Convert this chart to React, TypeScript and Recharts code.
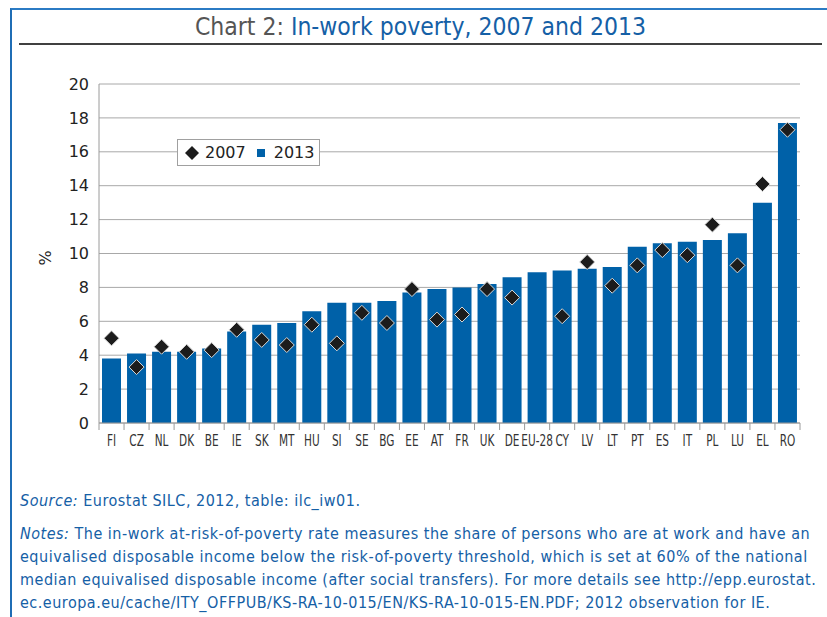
import { ComposedChart, Bar, Scatter, XAxis, YAxis, CartesianGrid } from 'recharts'

const countries = [
  'FI', 'CZ', 'NL', 'DK', 'BE', 'IE', 'SK', 'MT', 'HU', 'SI', 'SE', 'BG', 'EE', 'AT',
  'FR', 'UK', 'DE', 'EU-28', 'CY', 'LV', 'LT', 'PT', 'ES', 'IT', 'PL', 'LU', 'EL', 'RO',
]
const values2013 = [
  3.8, 4.1, 4.2, 4.2, 4.4, 5.4, 5.8, 5.9, 6.6, 7.1, 7.1, 7.2, 7.7, 7.9,
  8.0, 8.2, 8.6, 8.9, 9.0, 9.1, 9.2, 10.4, 10.6, 10.7, 10.8, 11.2, 13.0, 17.7,
]
const values2007 = [
  5.0, 3.3, 4.5, 4.2, 4.3, 5.5, 4.9, 4.6, 5.8, 4.7, 6.5, 5.9, 7.9, 6.1,
  6.4, 7.9, 7.4, null, 6.3, 9.5, 8.1, 9.3, 10.2, 9.9, 11.7, 9.3, 14.1, 17.3,
]
const yTicks = [0, 2, 4, 6, 8, 10, 12, 14, 16, 18, 20]

const data = countries.map((c, i) => ({ country: c, y2013: values2013[i], y2007: values2007[i] }))

const BLUE = '#0061a8'
const TEXT_BLUE = '#1560a6'
const COND = '"DejaVu Sans Condensed", "Liberation Sans Narrow", "DejaVu Sans", sans-serif'
const SANS = '"DejaVu Sans", sans-serif'

const CHART_W = 827
const MARGIN = { top: 14, right: 27, bottom: 7, left: 49 }
const Y_W = 50
const BAND = (CHART_W - MARGIN.left - Y_W - MARGIN.right) / countries.length

// category ticks sit between the bars, labels squeezed like the original font
function CountryTick(props: any) {
  const { x, y, payload, index } = props
  const last = index === countries.length - 1
  return (
    <g>
      <line x1={x - BAND / 2} x2={x - BAND / 2} y1={y} y2={y + 7} stroke="#9a9a9a" />
      {last && <line x1={x + BAND / 2} x2={x + BAND / 2} y1={y} y2={y + 7} stroke="#9a9a9a" />}
      <text
        transform={`translate(${x},${y + 23}) scale(0.78,1)`}
        textAnchor="middle"
        fontSize={15}
        fill="#333"
        fontFamily={COND}
      >
        {payload.value}
      </text>
    </g>
  )
}

function Diamond(props: any) {
  const { cx, cy, payload } = props
  if (payload == null || payload.y2007 == null || cy == null || isNaN(cy)) return <g />
  const r = 7.5
  return (
    <polygon
      points={`${cx},${cy - r} ${cx + r},${cy} ${cx},${cy + r} ${cx - r},${cy}`}
      fill="#1c1c1c"
      stroke="#d8d8d8"
      strokeWidth={1}
    />
  )
}

const notes = [
  'The in-work at-risk-of-poverty rate measures the share of persons who are at work and have an',
  'equivalised disposable income below the risk-of-poverty threshold, which is set at 60% of the national',
  'median equivalised disposable income (after social transfers). For more details see http://epp.eurostat.',
  'ec.europa.eu/cache/ITY_OFFPUB/KS-RA-10-015/EN/KS-RA-10-015-EN.PDF; 2012 observation for IE.',
]

export default function App() {
  return (
    <div style={{ position: 'absolute', left: 0, top: 0, width: 827, height: 617, background: '#fff', overflow: 'hidden' }}>
      {/* frame */}
      <div style={{ position: 'absolute', left: 10, top: 8, right: 0, bottom: 0, borderTop: '2px solid #2b7bc4', borderLeft: '2px solid #1f6db5' }} />
      {/* title */}
      <div
        style={{
          position: 'absolute', left: 19, top: 12, width: 803, textAlign: 'center',
          fontFamily: COND, fontSize: 24.5, lineHeight: '30px', color: TEXT_BLUE, whiteSpace: 'nowrap',
        }}
      >
        <span style={{ color: '#555' }}>Chart 2: </span>In-work poverty, 2007 and 2013
      </div>
      <div style={{ position: 'absolute', left: 19, top: 43, width: 803, height: 2, background: '#404040' }} />

      {/* y label */}
      <div
        style={{
          position: 'absolute', left: 36, top: 248, width: 20, height: 20, lineHeight: '20px', textAlign: 'center',
          fontFamily: SANS, fontSize: 16, color: '#222', transform: 'rotate(-90deg)',
        }}
      >
        %
      </div>

      <div style={{ position: 'absolute', left: 0, top: 70 }}>
        <ComposedChart width={CHART_W} height={390} data={data} margin={MARGIN}>
          <CartesianGrid vertical={false} stroke="#a8a8a8" />
          <XAxis
            dataKey="country"
            interval={0}
            height={30}
            tickSize={0}
            tickMargin={0}
            tickLine={false}
            axisLine={{ stroke: '#9a9a9a' }}
            tick={<CountryTick />}
          />
          <YAxis
            domain={[0, 20]}
            ticks={yTicks}
            width={Y_W}
            tickSize={0}
            tickMargin={10}
            tickLine={false}
            axisLine={{ stroke: '#9a9a9a' }}
            tick={{ fontSize: 16, fill: '#222', fontFamily: SANS }}
          />
          <Bar dataKey="y2013" name="2013" fill={BLUE} barSize={19} isAnimationActive={false} />
          <Scatter dataKey="y2007" name="2007" shape={<Diamond />} isAnimationActive={false} />
        </ComposedChart>
      </div>

      {/* legend */}
      <div
        style={{
          position: 'absolute', left: 177, top: 139, width: 141, height: 25, border: '1px solid #a0a0a0',
          background: '#fff', fontFamily: SANS, fontSize: 16, color: '#222', display: 'flex', alignItems: 'center',
        }}
      >
        <svg width={16} height={16} style={{ marginLeft: 6 }}>
          <polygon points="8,1 15,8 8,15 1,8" fill="#1c1c1c" />
        </svg>
        <span style={{ marginLeft: 5 }}>2007</span>
        <span style={{ display: 'inline-block', width: 8, height: 8, background: BLUE, marginLeft: 11 }} />
        <span style={{ marginLeft: 9 }}>2013</span>
      </div>

      {/* source and notes */}
      <div
        style={{
          position: 'absolute', left: 20, top: 489, fontFamily: COND, fontSize: 16, letterSpacing: 0.5,
          lineHeight: '23px', color: TEXT_BLUE, whiteSpace: 'nowrap',
        }}
      >
        <i>Source:</i> Eurostat SILC, 2012, table: ilc_iw01.
      </div>
      <div
        style={{
          position: 'absolute', left: 20, top: 522, fontFamily: COND, fontSize: 16, letterSpacing: 0.5,
          lineHeight: '23px', color: TEXT_BLUE, whiteSpace: 'nowrap',
        }}
      >
        {notes.map((line, i) => (
          <div key={i}>
            {i === 0 && <i>Notes: </i>}
            {line}
          </div>
        ))}
      </div>
    </div>
  )
}
